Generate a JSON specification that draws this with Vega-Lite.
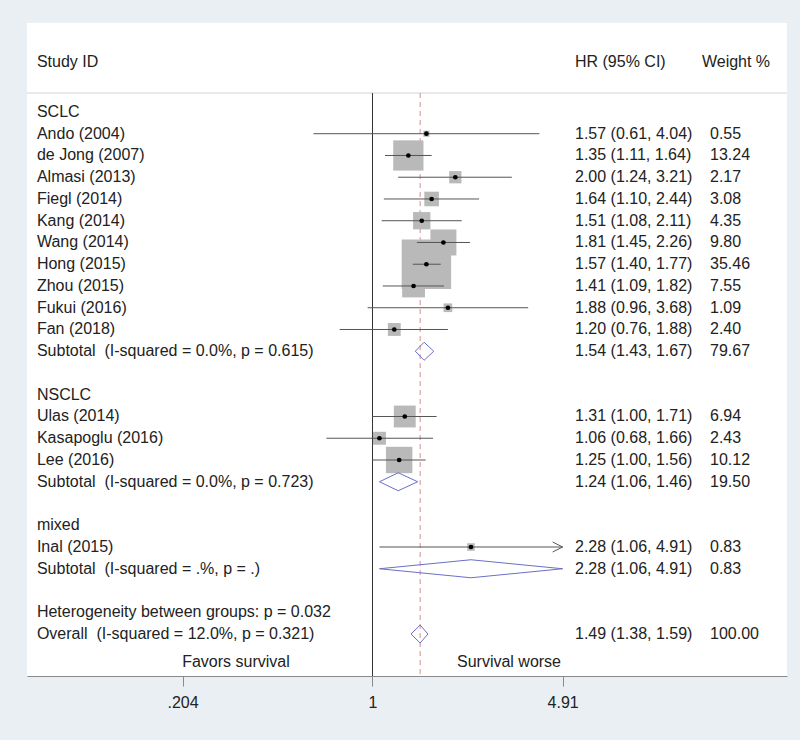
{
  "$schema": "https://vega.github.io/schema/vega-lite/v6.json",
  "width": 760,
  "height": 653,
  "autosize": "none",
  "padding": {"left": 27, "top": 23, "right": 13, "bottom": 64},
  "background": "#e9eff3",
  "config": {
    "view": {"fill": "white", "stroke": null},
    "text": {"font": "Liberation Sans", "fontSize": 16, "color": "#222222", "baseline": "middle"}
  },
  "datasets": {
    "rows": [
      {"kind": "group", "label": "SCLC", "row": 0},
      {"kind": "study", "label": "Ando (2004)", "row": 1, "est": 1.57, "lo": 0.61, "hi": 4.04, "ci": "1.57 (0.61, 4.04)", "weight": 0.55, "wt": "0.55"},
      {"kind": "study", "label": "de Jong (2007)", "row": 2, "est": 1.35, "lo": 1.11, "hi": 1.64, "ci": "1.35 (1.11, 1.64)", "weight": 13.24, "wt": "13.24"},
      {"kind": "study", "label": "Almasi (2013)", "row": 3, "est": 2.0, "lo": 1.24, "hi": 3.21, "ci": "2.00 (1.24, 3.21)", "weight": 2.17, "wt": "2.17"},
      {"kind": "study", "label": "Fiegl (2014)", "row": 4, "est": 1.64, "lo": 1.1, "hi": 2.44, "ci": "1.64 (1.10, 2.44)", "weight": 3.08, "wt": "3.08"},
      {"kind": "study", "label": "Kang (2014)", "row": 5, "est": 1.51, "lo": 1.08, "hi": 2.11, "ci": "1.51 (1.08, 2.11)", "weight": 4.35, "wt": "4.35"},
      {"kind": "study", "label": "Wang (2014)", "row": 6, "est": 1.81, "lo": 1.45, "hi": 2.26, "ci": "1.81 (1.45, 2.26)", "weight": 9.8, "wt": "9.80"},
      {"kind": "study", "label": "Hong (2015)", "row": 7, "est": 1.57, "lo": 1.4, "hi": 1.77, "ci": "1.57 (1.40, 1.77)", "weight": 35.46, "wt": "35.46"},
      {"kind": "study", "label": "Zhou (2015)", "row": 8, "est": 1.41, "lo": 1.09, "hi": 1.82, "ci": "1.41 (1.09, 1.82)", "weight": 7.55, "wt": "7.55"},
      {"kind": "study", "label": "Fukui (2016)", "row": 9, "est": 1.88, "lo": 0.96, "hi": 3.68, "ci": "1.88 (0.96, 3.68)", "weight": 1.09, "wt": "1.09"},
      {"kind": "study", "label": "Fan (2018)", "row": 10, "est": 1.2, "lo": 0.76, "hi": 1.88, "ci": "1.20 (0.76, 1.88)", "weight": 2.4, "wt": "2.40"},
      {"kind": "sub", "label": "Subtotal\u00a0 (I-squared = 0.0%, p = 0.615)", "row": 11, "est": 1.54, "lo": 1.43, "hi": 1.67, "ci": "1.54 (1.43, 1.67)", "weight": 79.67, "wt": "79.67"},
      {"kind": "group", "label": "NSCLC", "row": 13},
      {"kind": "study", "label": "Ulas (2014)", "row": 14, "est": 1.31, "lo": 1.0, "hi": 1.71, "ci": "1.31 (1.00, 1.71)", "weight": 6.94, "wt": "6.94"},
      {"kind": "study", "label": "Kasapoglu (2016)", "row": 15, "est": 1.06, "lo": 0.68, "hi": 1.66, "ci": "1.06 (0.68, 1.66)", "weight": 2.43, "wt": "2.43"},
      {"kind": "study", "label": "Lee (2016)", "row": 16, "est": 1.25, "lo": 1.0, "hi": 1.56, "ci": "1.25 (1.00, 1.56)", "weight": 10.12, "wt": "10.12"},
      {"kind": "sub", "label": "Subtotal\u00a0 (I-squared = 0.0%, p = 0.723)", "row": 17, "est": 1.24, "lo": 1.06, "hi": 1.46, "ci": "1.24 (1.06, 1.46)", "weight": 19.5, "wt": "19.50"},
      {"kind": "group", "label": "mixed", "row": 19},
      {"kind": "study", "label": "Inal (2015)", "row": 20, "est": 2.28, "lo": 1.06, "hi": 4.91, "ci": "2.28 (1.06, 4.91)", "weight": 0.83, "wt": "0.83"},
      {"kind": "sub", "label": "Subtotal\u00a0 (I-squared = .%, p = .)", "row": 21, "est": 2.28, "lo": 1.06, "hi": 4.91, "ci": "2.28 (1.06, 4.91)", "weight": 0.83, "wt": "0.83"},
      {"kind": "group", "label": "Heterogeneity between groups: p = 0.032", "row": 23},
      {"kind": "sub", "label": "Overall\u00a0 (I-squared = 12.0%, p = 0.321)", "row": 24, "est": 1.49, "lo": 1.38, "hi": 1.59, "ci": "1.49 (1.38, 1.59)", "weight": 100, "wt": "100.00"}
    ],
    "one": [{"a": 1}]
  },
  "layer": [
    {
      "data": {"name": "one"},
      "mark": {"type": "rule", "color": "#d4d4d4", "strokeWidth": 1},
      "encoding": {
        "x": {"datum": 0.0555, "type": "quantitative", "scale": {"type": "log", "domain": [0.0555, 32.1], "nice": false}, "axis": {"values": [0.204, 1, 4.91], "labelExpr": "datum.value < 0.5 ? '.204' : (datum.value < 2 ? '1' : '4.91')", "title": null, "grid": false, "domainColor": "#8a8a8a", "tickColor": "#8a8a8a", "tickSize": 10, "labelFont": "Liberation Sans", "labelFontSize": 16, "labelColor": "#222222", "labelPadding": 8, "labelFlush": false}},
        "x2": {"datum": 32.1},
        "y": {"datum": -0.87, "type": "quantitative", "scale": {"domain": [-4.09, 25.93], "reverse": true, "nice": false, "zero": false}, "axis": null}
      }
    },
    {
      "data": {"name": "one"},
      "mark": {"type": "rule", "color": "#333333", "strokeWidth": 1},
      "encoding": {"x": {"datum": 1, "type": "quantitative"}, "y": {"datum": -0.87, "type": "quantitative"}, "y2": {"datum": 25.93}}
    },
    {
      "data": {"name": "one"},
      "mark": {"type": "rule", "color": "#d49090", "strokeWidth": 1, "strokeDash": [5, 4]},
      "encoding": {"x": {"datum": 1.49, "type": "quantitative"}, "y": {"datum": -0.87, "type": "quantitative"}, "y2": {"datum": 25.93}}
    },
    {
      "data": {"name": "rows"},
      "transform": [{"filter": "datum.kind == 'study'"}],
      "mark": {"type": "point", "shape": "square", "filled": true, "color": "#b9b9b9", "opacity": 1},
      "encoding": {
        "x": {"field": "est", "type": "quantitative"},
        "y": {"field": "row", "type": "quantitative"},
        "size": {"field": "weight", "type": "quantitative", "scale": {"domain": [0, 100], "range": [0, 6900]}, "legend": null}
      }
    },
    {
      "data": {"name": "rows"},
      "transform": [{"filter": "datum.kind == 'study'"}],
      "mark": {"type": "rule", "color": "#555555", "strokeWidth": 1},
      "encoding": {"x": {"field": "lo", "type": "quantitative"}, "x2": {"field": "hi"}, "y": {"field": "row", "type": "quantitative"}}
    },
    {
      "data": {"name": "rows"},
      "transform": [{"filter": "datum.kind == 'study' && datum.hi >= 4.9"}],
      "mark": {"type": "point", "shape": "M-1,-0.5L0,0L-1,0.5", "filled": false, "color": "#555555", "strokeWidth": 1, "size": 400, "opacity": 1},
      "encoding": {"x": {"field": "hi", "type": "quantitative"}, "y": {"field": "row", "type": "quantitative"}}
    },
    {
      "data": {"name": "rows"},
      "transform": [{"filter": "datum.kind == 'study'"}],
      "mark": {"type": "circle", "color": "#000000", "size": 22, "opacity": 1},
      "encoding": {"x": {"field": "est", "type": "quantitative"}, "y": {"field": "row", "type": "quantitative"}}
    },
    {
      "data": {"name": "rows"},
      "transform": [{"filter": "datum.kind == 'sub'"}],
      "mark": {"type": "rule", "color": "#6a6fc8", "strokeWidth": 1, "y2Offset": -9},
      "encoding": {"x": {"field": "lo", "type": "quantitative"}, "x2": {"field": "est"}, "y": {"field": "row", "type": "quantitative"}, "y2": {"field": "row"}}
    },
    {
      "data": {"name": "rows"},
      "transform": [{"filter": "datum.kind == 'sub'"}],
      "mark": {"type": "rule", "color": "#6a6fc8", "strokeWidth": 1, "y2Offset": 9},
      "encoding": {"x": {"field": "lo", "type": "quantitative"}, "x2": {"field": "est"}, "y": {"field": "row", "type": "quantitative"}, "y2": {"field": "row"}}
    },
    {
      "data": {"name": "rows"},
      "transform": [{"filter": "datum.kind == 'sub'"}],
      "mark": {"type": "rule", "color": "#6a6fc8", "strokeWidth": 1, "yOffset": -9},
      "encoding": {"x": {"field": "est", "type": "quantitative"}, "x2": {"field": "hi"}, "y": {"field": "row", "type": "quantitative"}, "y2": {"field": "row"}}
    },
    {
      "data": {"name": "rows"},
      "transform": [{"filter": "datum.kind == 'sub'"}],
      "mark": {"type": "rule", "color": "#6a6fc8", "strokeWidth": 1, "yOffset": 9},
      "encoding": {"x": {"field": "est", "type": "quantitative"}, "x2": {"field": "hi"}, "y": {"field": "row", "type": "quantitative"}, "y2": {"field": "row"}}
    },
    {
      "data": {"name": "rows"},
      "mark": {"type": "text", "align": "left"},
      "encoding": {"x": {"datum": 0.0603, "type": "quantitative"}, "y": {"field": "row", "type": "quantitative"}, "text": {"field": "label"}}
    },
    {
      "data": {"name": "rows"},
      "transform": [{"filter": "datum.kind != 'group'"}],
      "mark": {"type": "text", "align": "left"},
      "encoding": {"x": {"datum": 5.444, "type": "quantitative"}, "y": {"field": "row", "type": "quantitative"}, "text": {"field": "ci"}}
    },
    {
      "data": {"name": "rows"},
      "transform": [{"filter": "datum.kind != 'group'"}],
      "mark": {"type": "text", "align": "left"},
      "encoding": {"x": {"datum": 16.85, "type": "quantitative"}, "y": {"field": "row", "type": "quantitative"}, "text": {"field": "wt"}}
    },
    {
      "data": {"name": "one"},
      "mark": {"type": "text", "align": "left", "text": "Study ID"},
      "encoding": {"x": {"datum": 0.0603, "type": "quantitative"}, "y": {"datum": -2.3, "type": "quantitative"}}
    },
    {
      "data": {"name": "one"},
      "mark": {"type": "text", "align": "left", "text": "HR (95% CI)"},
      "encoding": {"x": {"datum": 5.444, "type": "quantitative"}, "y": {"datum": -2.3, "type": "quantitative"}}
    },
    {
      "data": {"name": "one"},
      "mark": {"type": "text", "align": "left", "text": "Weight %"},
      "encoding": {"x": {"datum": 15.75, "type": "quantitative"}, "y": {"datum": -2.3, "type": "quantitative"}}
    },
    {
      "data": {"name": "one"},
      "mark": {"type": "text", "align": "center", "text": "Favors survival"},
      "encoding": {"x": {"datum": 0.319, "type": "quantitative"}, "y": {"datum": 25.3, "type": "quantitative"}}
    },
    {
      "data": {"name": "one"},
      "mark": {"type": "text", "align": "center", "text": "Survival worse"},
      "encoding": {"x": {"datum": 3.134, "type": "quantitative"}, "y": {"datum": 25.3, "type": "quantitative"}}
    }
  ]
}
